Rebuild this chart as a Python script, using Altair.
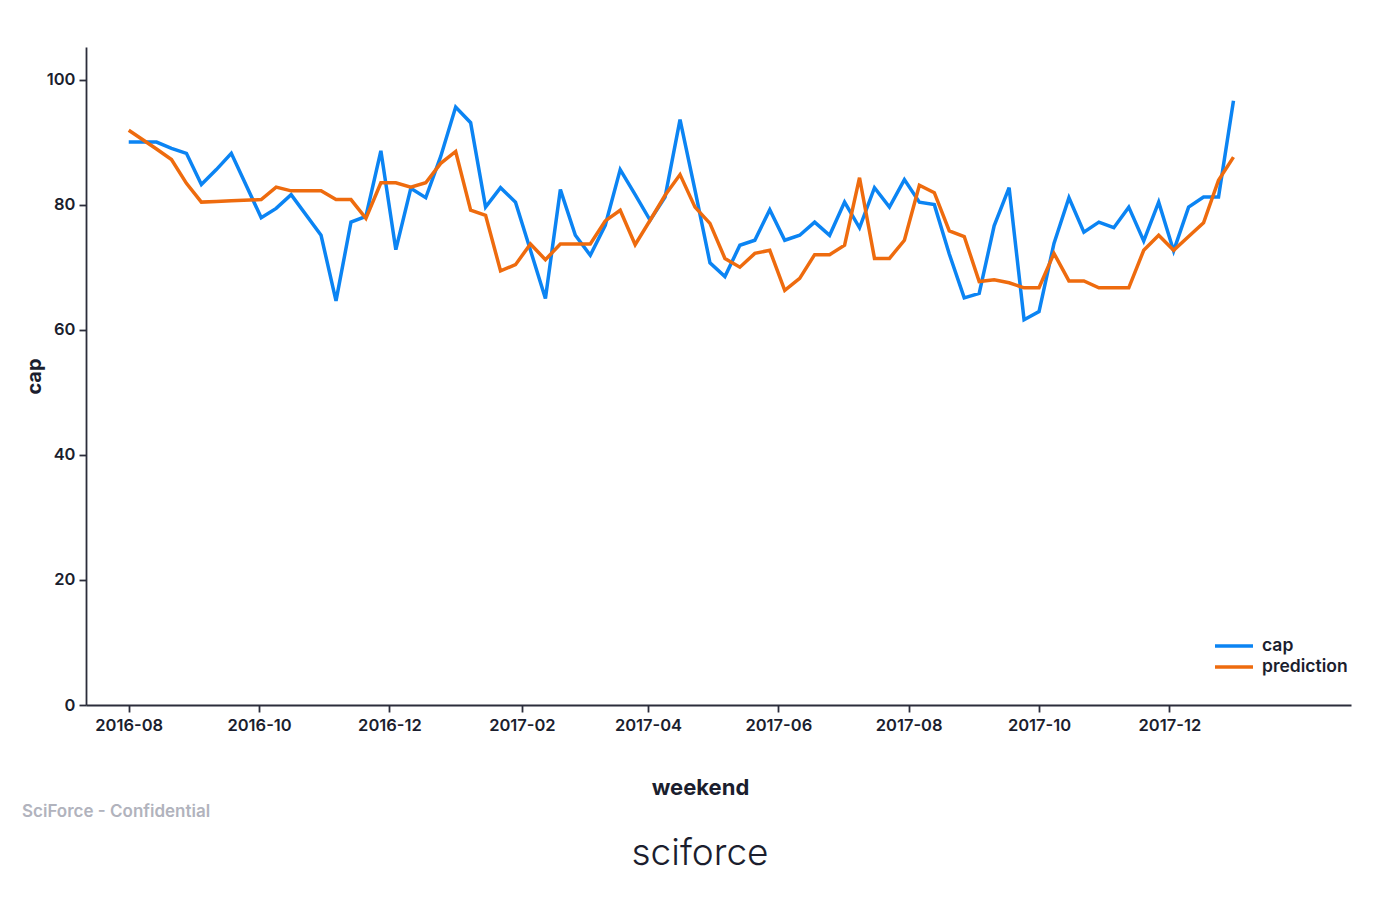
import altair as alt
import pandas as pd

weekend = [
    "2016-08-01", "2016-08-14", "2016-08-21", "2016-08-28", "2016-09-04", "2016-09-11",
    "2016-09-18", "2016-10-02", "2016-10-09", "2016-10-16", "2016-10-30", "2016-11-06",
    "2016-11-13", "2016-11-20", "2016-11-27", "2016-12-04", "2016-12-11", "2016-12-18",
    "2016-12-25", "2017-01-01", "2017-01-08", "2017-01-15", "2017-01-22", "2017-01-29",
    "2017-02-05", "2017-02-12", "2017-02-19", "2017-02-26", "2017-03-05", "2017-03-12",
    "2017-03-19", "2017-03-26", "2017-04-02", "2017-04-09", "2017-04-16", "2017-04-23",
    "2017-04-30", "2017-05-07", "2017-05-14", "2017-05-21", "2017-05-28", "2017-06-04",
    "2017-06-11", "2017-06-18", "2017-06-25", "2017-07-02", "2017-07-09", "2017-07-16",
    "2017-07-23", "2017-07-30", "2017-08-06", "2017-08-13", "2017-08-20", "2017-08-27",
    "2017-09-03", "2017-09-10", "2017-09-17", "2017-09-24", "2017-10-01", "2017-10-08",
    "2017-10-15", "2017-10-22", "2017-10-29", "2017-11-05", "2017-11-12", "2017-11-19",
    "2017-11-26", "2017-12-03", "2017-12-10", "2017-12-17", "2017-12-24", "2017-12-31",
]

cap = [
    90.0, 90.0, 89.0, 88.2, 83.2, 85.6,
    88.2, 77.9, 79.4, 81.6, 75.1, 64.6,
    77.2, 78.1, 88.6, 72.8, 82.6, 81.1,
    87.7, 95.6, 93.1, 79.6, 82.7, 80.4,
    72.7, 65.0, 82.4, 75.1, 71.9, 76.7,
    85.6, 81.6, 77.5, 81.2, 93.6, 82.3,
    70.7, 68.5, 73.5, 74.3, 79.2, 74.3,
    75.1, 77.2, 75.1, 80.4, 76.3, 82.7,
    79.6, 84.0, 80.4, 80.0, 72.1, 65.1,
    65.8, 76.6, 82.7, 61.6, 62.9, 73.8,
    81.1, 75.6, 77.2, 76.3, 79.6, 74.2,
    80.4, 72.6, 79.6, 81.2, 81.2, 96.6,
]

prediction = [
    91.9, 88.9, 87.2, 83.4, 80.4, 80.5,
    80.6, 80.8, 82.8, 82.2, 82.2, 80.8,
    80.8, 77.8, 83.5, 83.5, 82.8, 83.5,
    86.6, 88.5, 79.1, 78.3, 69.4, 70.4,
    73.7, 71.2, 73.7, 73.7, 73.7, 77.4,
    79.1, 73.6, 77.5, 81.5, 84.8, 79.6,
    77.0, 71.4, 70.0, 72.2, 72.7, 66.3,
    68.2, 72.0, 72.0, 73.5, 84.3, 71.4,
    71.4, 74.3, 83.1, 81.9, 75.8, 74.9,
    67.7, 68.0, 67.5, 66.7, 66.7, 72.2,
    67.8, 67.8, 66.7, 66.7, 66.7, 72.7,
    75.1, 72.7, 74.9, 77.1, 83.9, 87.6,
]

series_names = ["cap", "prediction"]
series_colors = ["#0b84f3", "#ee6b0e"]
y_ticks = [0, 20, 40, 60, 80, 100]
x_tick_months = [(2016, 8), (2016, 10), (2016, 12), (2017, 2), (2017, 4),
                 (2017, 6), (2017, 8), (2017, 10), (2017, 12)]

n = len(weekend)
df = pd.DataFrame({
    "weekend": weekend * 2,
    "series": ["cap"] * n + ["prediction"] * n,
    "value": cap + prediction,
})

TEXT = "#1b1e2e"
AXIS = "#2b2d3b"

x_enc = alt.X(
    "weekend:T",
    title="weekend",
    scale=alt.Scale(
        type="utc",
        domain=[alt.DateTime(year=2016, month=7, date=12, utc=True),
                alt.DateTime(year=2018, month=2, date=24, utc=True)],
        nice=False,
    ),
    axis=alt.Axis(
        values=[alt.DateTime(year=y, month=m, date=1, utc=True) for y, m in x_tick_months],
        format="%Y-%m",
        labelPadding=5,
        titleX=614,
        titleY=82,
        titleBaseline="middle",
        titleAlign="center",
        titleFontSize=22,
    ),
)

y_enc = alt.Y(
    "value:Q",
    title="cap",
    scale=alt.Scale(domain=[0, 105.2], nice=False),
    axis=alt.Axis(
        values=y_ticks,
        labelPadding=4,
        titleX=-52,
        titleY=329,
        titleAlign="center",
        titleBaseline="middle",
        titleFontSize=20,
    ),
)

lines = alt.Chart(df).mark_line(strokeWidth=3.5).encode(
    x=x_enc,
    y=y_enc,
    color=alt.Color(
        "series:N",
        scale=alt.Scale(domain=series_names, range=series_colors),
        legend=alt.Legend(
            title=None,
            orient="none",
            legendX=1136,
            legendY=587,
            symbolType="M-1.9,0L1.9,0",
            symbolSize=400,
            symbolStrokeWidth=3.5,
            labelFontSize=17.5,
            labelFontWeight=600,
            labelColor=TEXT,
            labelOffset=16,
            rowPadding=0,
        ),
    ),
)

conf = alt.Chart(pd.DataFrame({"t": ["SciForce - Confidential"]})).mark_text(
    align="left", baseline="middle", fontSize=17, fontWeight=600, color="#b1b3bd"
).encode(text="t:N", x=alt.value(-64), y=alt.value(765))

logo = alt.Chart(pd.DataFrame({"t": ["sciforce"]})).mark_text(
    align="center", baseline="middle", fontSize=37, fontWeight=300, color=TEXT
).encode(text="t:N", x=alt.value(614), y=alt.value(807))

chart = alt.layer(lines, conf, logo).properties(
    width=1265,
    height=658,
    autosize=alt.AutoSizeParams(type="none"),
    padding={"left": 78, "top": 39, "right": 34, "bottom": 180},
).configure(
    font="Inter"
).configure_view(
    stroke=None
).configure_axis(
    grid=False,
    domainColor=AXIS,
    domainWidth=1.8,
    tickColor=AXIS,
    tickWidth=1.8,
    tickSize=7,
    labelFontSize=16.5,
    labelFontWeight=600,
    labelColor=TEXT,
    titleFontWeight=700,
    titleColor=TEXT,
)

chart.save("out.html", embed_options={"renderer": "svg", "actions": False})
